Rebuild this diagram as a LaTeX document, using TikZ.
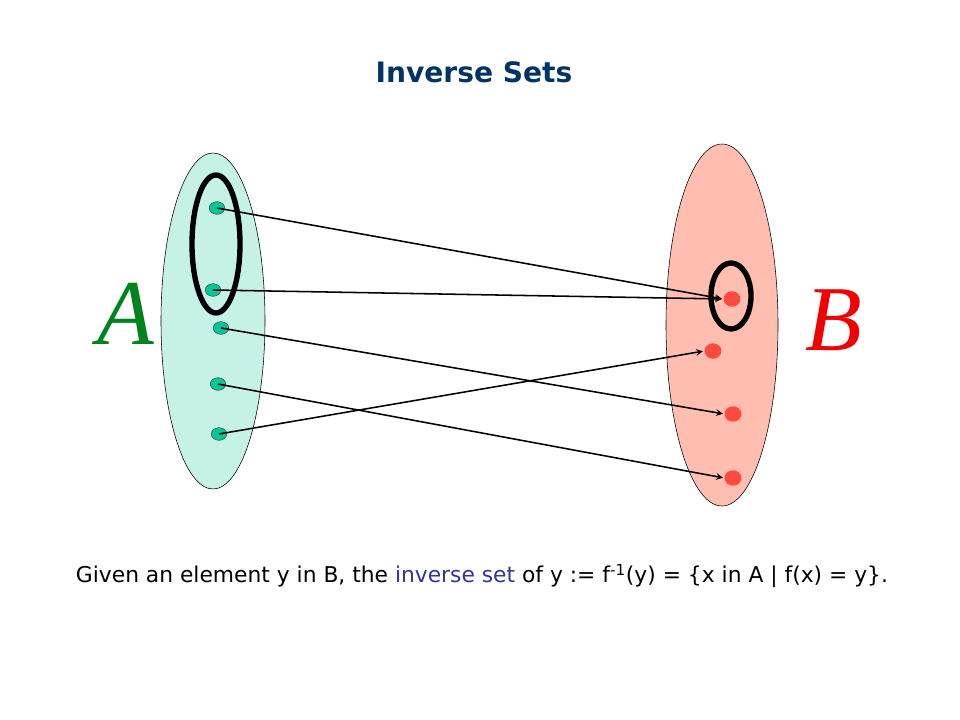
\documentclass[tikz,border=0pt]{standalone}
\usepackage{fontspec}
\usetikzlibrary{shapes.geometric}
\setmainfont{Liberation Serif}
\newfontfamily\comicfont{DejaVu Sans}
\begin{document}
\begin{tikzpicture}[x=0.025cm, y=-0.025cm,
  dotA/.style={ellipse, draw=black!70, fill={rgb,255:red,0;green,200;blue,150}, inner sep=0pt, minimum width=11pt, minimum height=9pt},
  dotB/.style={ellipse, fill={rgb,255:red,255;green,75;blue,60}, inner sep=0pt, minimum width=12pt, minimum height=11pt},
  map/.style={->, >=stealth, line width=1.1pt, shorten >=1pt}]
\useasboundingbox (0,0) rectangle (960,720);
\node[font=\comicfont\bfseries\fontsize{20}{24}\selectfont, text={rgb,255:red,0;green,51;blue,102}] (title) at (474,72) {Inverse Sets};
\filldraw[fill={rgb,255:red,198;green,242;blue,230}, draw=black] (213,321) ellipse (52 and 168);
\filldraw[fill={rgb,255:red,255;green,190;blue,175}, draw=black] (722,325) ellipse (56 and 181);
\node[font=\itshape\fontsize{66}{70}\selectfont, text={rgb,255:red,0;green,130;blue,30}] (A) at (126,314) {A};
\node[font=\itshape\fontsize{66}{70}\selectfont, text={rgb,255:red,240;green,0;blue,0}] (B) at (834,320) {B};
\node[dotA] (a1) at (217,208) {};
\node[dotA] (a2) at (213,290) {};
\node[dotA] (a3) at (221,328) {};
\node[dotA] (a4) at (218,384) {};
\node[dotA] (a5) at (219,434) {};
\node[dotB] (b1) at (732,299) {};
\node[dotB] (b2) at (713,351) {};
\node[dotB] (b3) at (733,414) {};
\node[dotB] (b4) at (733,478) {};
\draw[line width=3.8pt] (216,244) ellipse (24 and 69);
\draw[line width=3.8pt] (731,296) ellipse (20 and 33);
\draw[map] (a1.center) -- (b1.west);
\draw[map] (a2.center) -- (b1.west);
\draw[map] (a3.center) -- (b3.west);
\draw[map] (a4.center) -- (b4.west);
\draw[map] (a5.center) -- (b2.west);
\node[font=\comicfont\fontsize{15.5}{18}\selectfont] (caption) at (482,576) {Given an element y in B, the \textcolor[RGB]{51,51,153}{inverse set} of y := f\textsuperscript{-1}(y) = \{x in A \textbar{} f(x) = y\}.};
\end{tikzpicture}
\end{document}
